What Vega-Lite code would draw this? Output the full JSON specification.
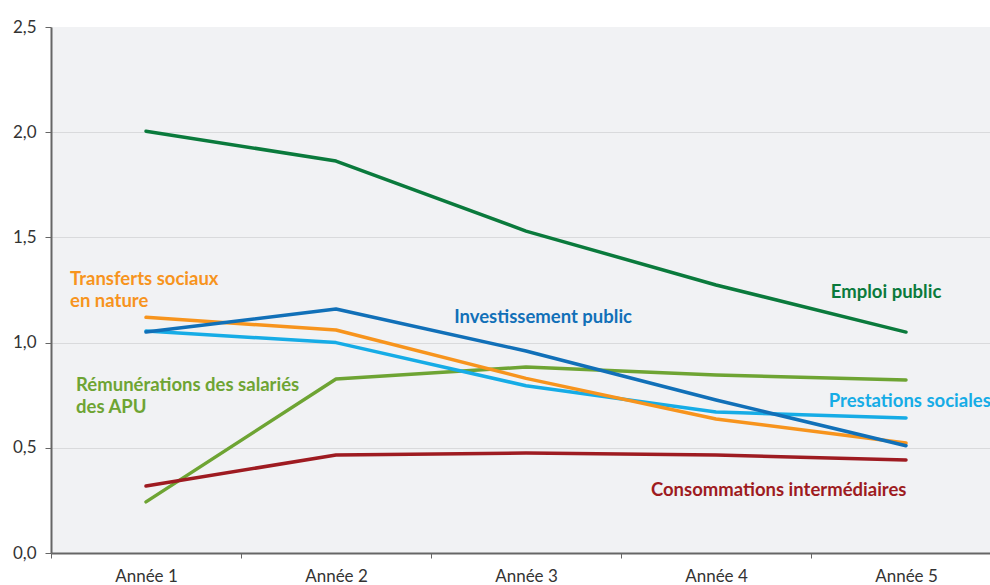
{
  "$schema": "https://vega.github.io/schema/vega-lite/v6.json",
  "width": 950,
  "height": 526,
  "autosize": {"type": "none"},
  "padding": {"left": 51, "top": 27, "right": 0, "bottom": 32},
  "background": "#ffffff",
  "config": {"view": {"fill": "#f1f2f4", "stroke": null}, "font": "Lato"},
  "datasets": {
    "series": [
      {"serie": "Emploi public", "annee": "Année 1", "valeur": 2.005},
      {"serie": "Emploi public", "annee": "Année 2", "valeur": 1.863},
      {"serie": "Emploi public", "annee": "Année 3", "valeur": 1.53},
      {"serie": "Emploi public", "annee": "Année 4", "valeur": 1.274},
      {"serie": "Emploi public", "annee": "Année 5", "valeur": 1.05},
      {"serie": "Rémunérations des salariés des APU", "annee": "Année 1", "valeur": 0.243},
      {"serie": "Rémunérations des salariés des APU", "annee": "Année 2", "valeur": 0.827},
      {"serie": "Rémunérations des salariés des APU", "annee": "Année 3", "valeur": 0.884},
      {"serie": "Rémunérations des salariés des APU", "annee": "Année 4", "valeur": 0.846},
      {"serie": "Rémunérations des salariés des APU", "annee": "Année 5", "valeur": 0.822},
      {"serie": "Consommations intermédiaires", "annee": "Année 1", "valeur": 0.318},
      {"serie": "Consommations intermédiaires", "annee": "Année 2", "valeur": 0.466},
      {"serie": "Consommations intermédiaires", "annee": "Année 3", "valeur": 0.475},
      {"serie": "Consommations intermédiaires", "annee": "Année 4", "valeur": 0.466},
      {"serie": "Consommations intermédiaires", "annee": "Année 5", "valeur": 0.442},
      {"serie": "Prestations sociales", "annee": "Année 1", "valeur": 1.055},
      {"serie": "Prestations sociales", "annee": "Année 2", "valeur": 1.0},
      {"serie": "Prestations sociales", "annee": "Année 3", "valeur": 0.795},
      {"serie": "Prestations sociales", "annee": "Année 4", "valeur": 0.67},
      {"serie": "Prestations sociales", "annee": "Année 5", "valeur": 0.642},
      {"serie": "Transferts sociaux en nature", "annee": "Année 1", "valeur": 1.12},
      {"serie": "Transferts sociaux en nature", "annee": "Année 2", "valeur": 1.06},
      {"serie": "Transferts sociaux en nature", "annee": "Année 3", "valeur": 0.83},
      {"serie": "Transferts sociaux en nature", "annee": "Année 4", "valeur": 0.637},
      {"serie": "Transferts sociaux en nature", "annee": "Année 5", "valeur": 0.523},
      {"serie": "Investissement public", "annee": "Année 1", "valeur": 1.05},
      {"serie": "Investissement public", "annee": "Année 2", "valeur": 1.16},
      {"serie": "Investissement public", "annee": "Année 3", "valeur": 0.96},
      {"serie": "Investissement public", "annee": "Année 4", "valeur": 0.727},
      {"serie": "Investissement public", "annee": "Année 5", "valeur": 0.51}
    ],
    "labelsLeft": [
      {"serie": "Transferts sociaux en nature", "texte": "Transferts sociaux\nen nature", "px": 0.6, "py": 1.302},
      {"serie": "Rémunérations des salariés des APU", "texte": "Rémunérations des salariés\ndes APU", "px": 0.632, "py": 0.798}
    ],
    "labelsCenter": [
      {"serie": "Investissement public", "texte": "Investissement public", "px": 3.09, "py": 1.122},
      {"serie": "Emploi public", "texte": "Emploi public", "px": 4.895, "py": 1.24},
      {"serie": "Prestations sociales", "texte": "Prestations sociales", "px": 5.02, "py": 0.722},
      {"serie": "Consommations intermédiaires", "texte": "Consommations intermédiaires", "px": 4.33, "py": 0.3}
    ]
  },
  "layer": [
    {
      "data": {"name": "series"},
      "mark": {"type": "line", "strokeWidth": 3.5, "strokeJoin": "round", "strokeCap": "round"},
      "encoding": {
        "x": {
          "field": "annee", "type": "nominal", "sort": null,
          "scale": {"type": "band", "paddingInner": 0, "paddingOuter": 0},
          "axis": {
            "title": null, "labelAngle": 0, "grid": false,
            "tickBand": "extent", "tickSize": 5, "tickColor": "#666666", "tickWidth": 1,
            "domainColor": "#666666", "domainWidth": 2,
            "labelFontSize": 17, "labelColor": "#333333", "labelPadding": 10, "labelFont": "Lato"
          }
        },
        "y": {
          "field": "valeur", "type": "quantitative",
          "scale": {"domain": [0, 2.5], "nice": false, "zero": true},
          "axis": {
            "title": null, "values": [0, 0.5, 1, 1.5, 2, 2.5],
            "labelExpr": "replace(format(datum.value, '.1f'), '.', ',')",
            "grid": true, "gridColor": "#d9dadc", "gridWidth": 1,
            "gridOpacity": {"condition": {"test": "datum.value >= 2.5 || datum.value <= 0", "value": 0}, "value": 1},
            "domainColor": "#666666", "domainWidth": 2,
            "tickColor": "#666666", "tickSize": 6,
            "labelFontSize": 17, "labelColor": "#333333", "labelPadding": 9, "labelFont": "Lato"
          }
        },
        "color": {
          "field": "serie", "type": "nominal", "legend": null,
          "scale": {
            "domain": ["Emploi public", "Rémunérations des salariés des APU", "Consommations intermédiaires", "Prestations sociales", "Transferts sociaux en nature", "Investissement public"],
            "range": ["#0a7a3c", "#6ea433", "#9e1b21", "#16ace6", "#f7941d", "#1170b8"]
          }
        }
      }
    },
    {
      "data": {"name": "labelsLeft"},
      "mark": {"type": "text", "align": "left", "baseline": "middle", "fontSize": 18.5, "fontWeight": "bold", "font": "Lato", "lineBreak": "\n", "lineHeight": 22},
      "encoding": {
        "x": {"field": "px", "type": "quantitative", "scale": {"domain": [0.5, 5.5], "nice": false, "zero": false}, "axis": null},
        "y": {"field": "py", "type": "quantitative"},
        "text": {"field": "texte"},
        "color": {"field": "serie", "type": "nominal", "legend": null}
      }
    },
    {
      "data": {"name": "labelsCenter"},
      "mark": {"type": "text", "align": "center", "baseline": "middle", "fontSize": 18.5, "fontWeight": "bold", "font": "Lato"},
      "encoding": {
        "x": {"field": "px", "type": "quantitative", "scale": {"domain": [0.5, 5.5], "nice": false, "zero": false}, "axis": null},
        "y": {"field": "py", "type": "quantitative"},
        "text": {"field": "texte"},
        "color": {"field": "serie", "type": "nominal", "legend": null}
      }
    }
  ],
  "resolve": {"scale": {"x": "independent"}}
}
